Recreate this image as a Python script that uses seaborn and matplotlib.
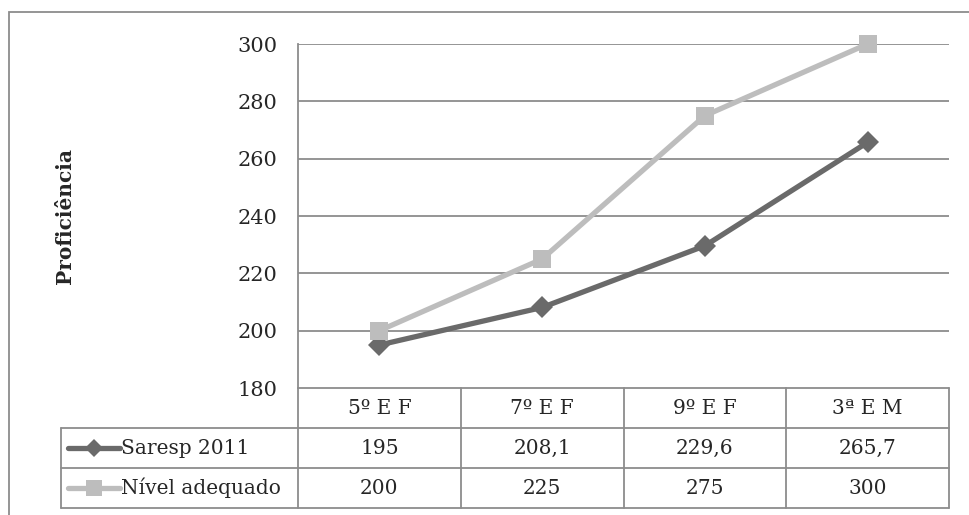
import matplotlib
matplotlib.use("Agg")
import matplotlib.pyplot as plt
import matplotlib.transforms as mtransforms
from matplotlib.lines import Line2D
from matplotlib.patches import Rectangle
import seaborn as sns
import pandas as pd

# Data
categories = ["5º E F", "7º E F", "9º E F", "3ª E M"]
saresp_2011 = [195, 208.1, 229.6, 265.7]
nivel_adequado = [200, 225, 275, 300]
series_names = ["Saresp 2011", "Nível adequado"]
table_labels = [["195", "208,1", "229,6", "265,7"], ["200", "225", "275", "300"]]
y_ticks = [180, 200, 220, 240, 260, 280, 300]

sns.set_theme(style="white")
plt.rcParams["font.family"] = ["DejaVu Serif"]

W, H = 969, 515
fig = plt.figure(figsize=(W / 100, H / 100), dpi=100)

def fy(py):
    return 1 - py / H

left_px, right_px, top_px, bottom_px = 298, 949, 44, 388
ax = fig.add_axes([left_px / W, fy(bottom_px), (right_px - left_px) / W,
                   (bottom_px - top_px) / H])

df = pd.DataFrame({
    "cat": list(range(len(categories))) * 2,
    "valor": saresp_2011 + nivel_adequado,
    "serie": [series_names[0]] * 4 + [series_names[1]] * 4,
})
colors = {"Saresp 2011": "#6a6a6a", "Nível adequado": "#bdbdbd"}
markers = {"Saresp 2011": "D", "Nível adequado": "s"}
sizes = {"Saresp 2011": 11, "Nível adequado": 13}

for name in series_names:
    sub = df[df["serie"] == name]
    sns.lineplot(data=sub, x="cat", y="valor", ax=ax, color=colors[name],
                 marker=markers[name], markersize=sizes[name],
                 markeredgewidth=0, linewidth=3.8, legend=False, zorder=3,
                 clip_on=False)

ax.set_xlim(-0.5, len(categories) - 0.5)
ax.set_ylim(180, 300)
ax.set_yticks(y_ticks)
ax.set_yticklabels([str(t) for t in y_ticks], fontsize=15)
ax.tick_params(axis="y", length=0, pad=15)
ax.set_xticks([])
ax.set_xlabel("")
ax.set_ylabel("")
grid_c = "#8c8c8c"
for t in y_ticks[1:]:
    ax.axhline(t, color=grid_c, linewidth=1.3, zorder=1)
for s in ["top", "right", "bottom"]:
    ax.spines[s].set_visible(False)
ax.spines["left"].set_color(grid_c)
ax.spines["left"].set_linewidth(1.3)

fig.text(65 / W, fy(216), "Proficiência", rotation=90, ha="center",
         va="center", fontsize=14.5, fontweight="bold")

# Data table below the plot, columns aligned with the category axis
trans = mtransforms.blended_transform_factory(ax.transData, fig.transFigure)
row_edges = [388, 428, 468, 508]
legend_left = 61
n = len(categories)

def hline(x0, x1, py, t):
    fig.add_artist(Line2D([x0, x1], [fy(py), fy(py)], transform=t,
                          color=grid_c, linewidth=1.3))

def vline(x, py0, py1, t):
    fig.add_artist(Line2D([x, x], [fy(py0), fy(py1)], transform=t,
                          color=grid_c, linewidth=1.3))

hline(-0.5, n - 0.5, row_edges[0], trans)
for py in row_edges[1:]:
    hline(legend_left / W, right_px / W, py, fig.transFigure)
for i in range(n + 1):
    vline(i - 0.5, row_edges[0], row_edges[3], trans)
vline(legend_left / W, row_edges[1], row_edges[3], fig.transFigure)

for i, c in enumerate(categories):
    fig.text(i, fy((row_edges[0] + row_edges[1]) / 2), c, transform=trans,
             ha="center", va="center", fontsize=14.5)
for r, name in enumerate(series_names):
    ymid = fy((row_edges[r + 1] + row_edges[r + 2]) / 2)
    for i, lab in enumerate(table_labels[r]):
        fig.text(i, ymid, lab, transform=trans, ha="center", va="center",
                 fontsize=14.5)
    fig.add_artist(Line2D([68 / W, 120 / W], [ymid, ymid],
                          transform=fig.transFigure, color=colors[name],
                          linewidth=3.8))
    fig.add_artist(Line2D([94 / W], [ymid], transform=fig.transFigure,
                          color=colors[name], marker=markers[name],
                          markersize=sizes[name] * 0.85, markeredgewidth=0,
                          linestyle="none"))
    fig.text(121 / W, ymid, name, ha="left", va="center", fontsize=14.5)

# Outer frame
fig.add_artist(Rectangle((9 / W, fy(530)), 1, fy(12) - fy(530),
                         transform=fig.transFigure, fill=False,
                         edgecolor="#8c8c8c", linewidth=1.3))

fig.savefig("out.png", dpi=100)
